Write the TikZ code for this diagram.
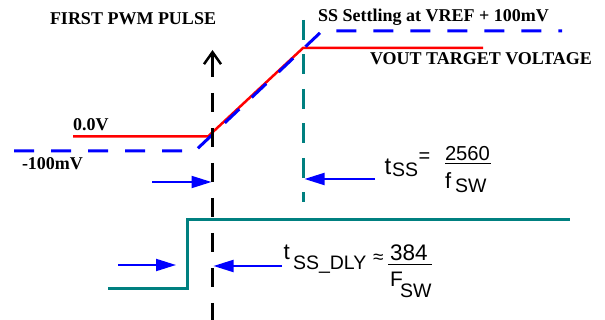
\documentclass[tikz,border=0pt]{standalone}
\usepackage{fontspec}
\setmainfont{Liberation Serif}
\setsansfont{Liberation Sans}
\usetikzlibrary{arrows.meta}
\definecolor{stepteal}{RGB}{0,128,128}
\begin{document}
\begin{tikzpicture}[x=1pt,y=-1pt,
  lbl/.style={font=\fontsize{18}{18}\selectfont\bfseries, inner sep=0pt, outer sep=0pt, anchor=base west},
  sf/.style={font=\sffamily\fontsize{#1}{#1}\selectfont, inner sep=0pt, outer sep=0pt, anchor=base west},
  barrow/.style={blue, line width=2pt, -{Triangle[length=20pt,width=12pt]}},
  fracbar/.style={black, line width=1pt},
  redline/.style={red, line width=2.5pt},
  bluedash/.style={blue, line width=3pt, dash pattern=on 20pt off 17pt},
  blackdash/.style={black, line width=2.5pt, dash pattern=on 19pt off 16pt},
  tealdash/.style={stepteal, line width=2.5pt, dash pattern=on 20pt off 14.5pt},
  tealline/.style={stepteal, line width=3pt}]
\useasboundingbox (0,0) rectangle (605,320);

% coordinates
\coordinate (r0) at (73,136.5);
\coordinate (r1) at (208,136.5);
\coordinate (r2) at (303,48);
\coordinate (r3) at (483,48);
\coordinate (b0) at (14,151);
\coordinate (b1) at (195,151);
\coordinate (b2) at (322,31);
\coordinate (b3) at (562,31);
\coordinate (pwmTop) at (212.5,50);
\coordinate (pwmShaft) at (212.5,77);
\coordinate (pwmDashTop) at (212.5,93);
\coordinate (pwmBot) at (212.5,320);
\coordinate (ssTop) at (303.3,20);
\coordinate (ssBot) at (303.3,202);
\coordinate (s0) at (108,289);
\coordinate (s1) at (187,289);
\coordinate (s2) at (187,219.5);
\coordinate (s3) at (570,219.5);
\coordinate (a1s) at (152,182);
\coordinate (a1e) at (211.5,182);
\coordinate (a2s) at (375,179);
\coordinate (a2e) at (304.5,179);
\coordinate (a3s) at (118,265);
\coordinate (a3e) at (176,265);
\coordinate (a4s) at (282,266);
\coordinate (a4e) at (213.5,266);
\coordinate (f1a) at (445,164);
\coordinate (f1b) at (491,164);
\coordinate (f2a) at (388,265);
\coordinate (f2b) at (432,265);

% waveforms
\draw[redline] (r0) -- (r1) -- (r2) -- (r3);
\draw[bluedash] (b0) -- (b1) -- (b2) -- (b3);
\draw[tealline] (s0) -- (s1) -- (s2) -- (s3);
\draw[tealdash] (ssTop) -- (ssBot);
\draw[black, line width=2.5pt, -{Straight Barb[length=12pt,width=17pt]}] (pwmShaft) -- (pwmTop);
\draw[blackdash] (pwmDashTop) -- (pwmBot);

% arrows
\draw[barrow] (a1s) -- (a1e);
\draw[barrow] (a2s) -- (a2e);
\draw[barrow] (a3s) -- (a3e);
\draw[barrow] (a4s) -- (a4e);

% labels
\node[lbl] (pwm) at (50,25) {FIRST PWM PULSE};
\node[lbl] (ssset) at (318,21.7) {SS Settling at VREF + 100mV};
\node[lbl] (vout) at (370,65) {VOUT TARGET VOLTAGE};
\node[lbl] (zero) at (73,130.7) {0.0V};
\node[lbl] (neg) at (22,170) {-100mV};

% t_SS formula
\node[sf=24] (tss) at (384.5,175) {t};
\node[sf=19.5] (tssSub) at (392,177) {SS};
\node[sf=20] (tssEq) at (418.5,163) {=};
\node[sf=20.2] (tssNum) at (445,160.7) {2560};
\draw[fracbar] (f1a) -- (f1b);
\node[sf=22] (tssDen) at (445,189) {f};
\node[sf=19.5] (tssDenSub) at (455,193) {SW};

% t_SS_DLY formula
\node[sf=22.5] (tdl) at (283.5,260) {t};
\node[sf=19.5] (tdlSub) at (293,270) {SS\_DLY};
\node[sf=19] (tdlEq) at (373,264) {≈};
\node[sf=22.5] (tdlNum) at (390,261) {384};
\draw[fracbar] (f2a) -- (f2b);
\node[sf=21] (tdlDen) at (390,287) {F};
\node[sf=19.5] (tdlDenSub) at (400,298) {SW};
\end{tikzpicture}
\end{document}
